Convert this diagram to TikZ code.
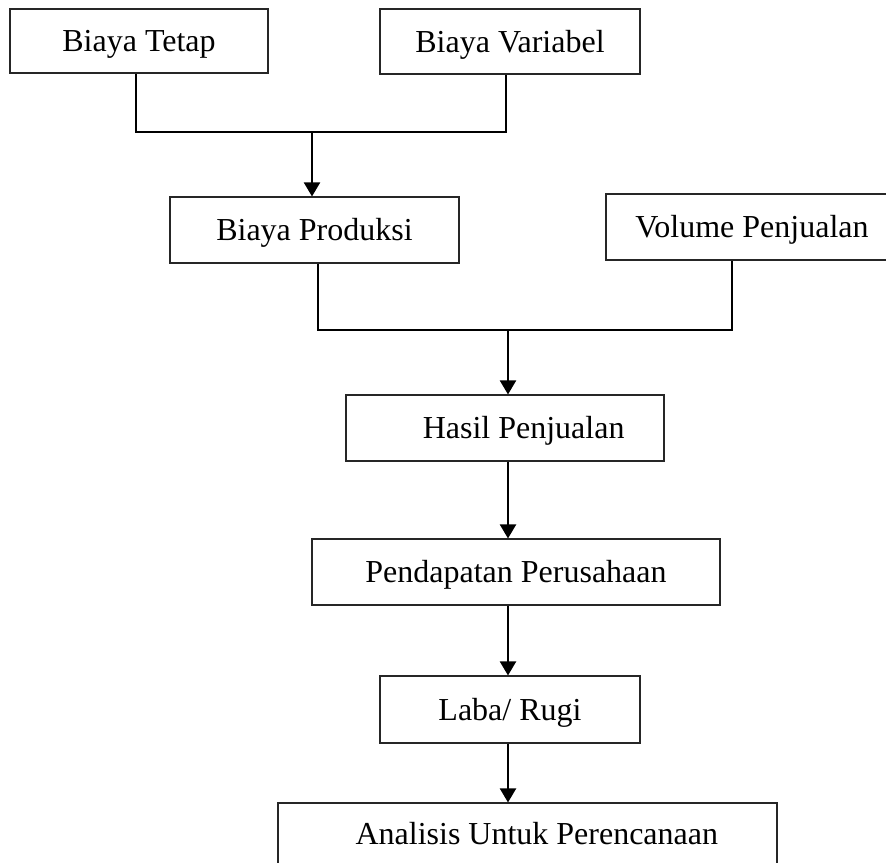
\documentclass[tikz,border=0pt]{standalone}
\usepackage{fontspec}
\setmainfont{Liberation Serif}
\usetikzlibrary{arrows.meta}
\begin{document}
\begin{tikzpicture}[x=0.75pt,y=-0.75pt,
  box/.style={draw=black!85, line width=0.8pt, rectangle, inner sep=0pt,
    font=\fontsize{24}{28}\selectfont, text height=15.9pt, text depth=0pt},
  conn/.style={draw=black, line width=1.5pt},
  arr/.style={conn, -{Triangle[width=12pt,length=10.5pt]}}]
\useasboundingbox (0,0) rectangle (886,863);
% boxes
\node[box, minimum width=193.5pt, minimum height=48pt] (bt) at (139,41) {Biaya Tetap};
\node[box, minimum width=195pt, minimum height=48.75pt] (bv) at (510,41.5) {Biaya Variabel};
\node[box, minimum width=216.75pt, minimum height=49.5pt] (bp) at (314.5,230) {Biaya Produksi};
\node[box, minimum width=219pt, minimum height=49.5pt] (vp) at (752,227) {Volume Penjualan};
\node[box, minimum width=238.5pt, minimum height=49.5pt] (hp) at (505,428) {\hspace*{28pt}Hasil Penjualan};
\node[box, minimum width=306pt, minimum height=49.5pt] (pp) at (516,572) {Pendapatan Perusahaan};
\node[box, minimum width=195pt, minimum height=50.25pt] (lr) at (510,709.5) {Laba/ Rugi};
\node[box, minimum width=374.25pt, minimum height=46.5pt] (au) at (527.5,834) {\hspace*{14pt}Analisis Untuk Perencanaan};
% junction coordinates
\coordinate (t1) at (136,132);
\coordinate (t2) at (506,132);
\coordinate (j1) at (312,132);
\coordinate (u1) at (318,330);
\coordinate (u2) at (732,330);
\coordinate (j2) at (508,330);
\coordinate (ax) at (508,0);
% connectors
\draw[conn] (t1 |- bt.south) -- (t1) -- (t2) -- (t2 |- bv.south);
\draw[arr] (j1) -- (j1 |- bp.north);
\draw[conn] (u1 |- bp.south) -- (u1) -- (u2) -- (u2 |- vp.south);
\draw[arr] (j2) -- (j2 |- hp.north);
\draw[arr] (ax |- hp.south) -- (ax |- pp.north);
\draw[arr] (ax |- pp.south) -- (ax |- lr.north);
\draw[arr] (ax |- lr.south) -- (ax |- au.north);
\end{tikzpicture}
\end{document}
